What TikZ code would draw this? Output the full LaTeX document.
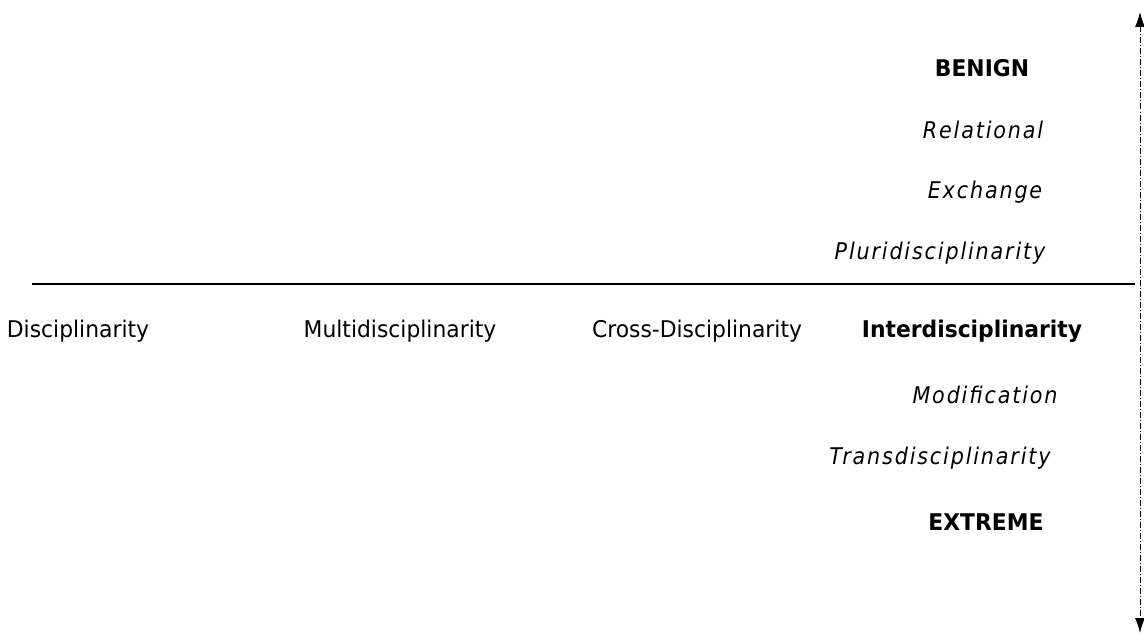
\documentclass[tikz,border=0pt]{standalone}
\usepackage{fontspec}
\setmainfont{DejaVu Sans}[FakeStretch=0.95]
\newfontfamily\slantfont{DejaVu Sans Oblique}[FakeStretch=0.9,LetterSpace=8]
\usetikzlibrary{arrows.meta}
\begin{document}
\begin{tikzpicture}[x=1pt,y=-1pt,
	lbl/.style={font=\fontsize{23}{26}\selectfont, inner sep=0pt},
	ital/.style={lbl, font=\fontsize{23}{26}\selectfont\slantfont},
	bld/.style={lbl, font=\fontsize{23}{26}\selectfont\bfseries}]
	\useasboundingbox (0,0) rectangle (1144,634);
	% scale on the right
	\coordinate (top) at (1140,12);
	\coordinate (bottom) at (1140,633);
	\draw[dash pattern=on 6pt off 2pt on 1pt off 2pt, line width=1pt,
		{Latex[length=15pt,width=10pt]}-{Latex[length=15pt,width=10pt]}] (top) -- (bottom);
	% upper half
	\node[bld] (benign) at (982,68) {BENIGN};
	\node[ital] (relational) at (983,130) {Relational};
	\node[ital] (exchange) at (985,192) {Exchange};
	\node[ital] (pluri) at (940,253) {Pluridisciplinarity};
	% divider
	\coordinate (left) at (32,284);
	\coordinate (right) at (1135,284);
	\draw[line width=1.6pt] (left) -- (right);
	% middle row
	\node[lbl] (disc) at (78,331) {Disciplinarity};
	\node[lbl] (multi) at (400,331) {Multidisciplinarity};
	\node[lbl] (cross) at (697,331) {Cross-Disciplinarity};
	\node[bld] (inter) at (972,331) {Interdisciplinarity};
	% lower half
	\node[ital] (modif) at (985,395) {Modification};
	\node[ital] (trans) at (940,458) {Transdisciplinarity};
	\node[bld] (extreme) at (986,522) {EXTREME};
\end{tikzpicture}
\end{document}
